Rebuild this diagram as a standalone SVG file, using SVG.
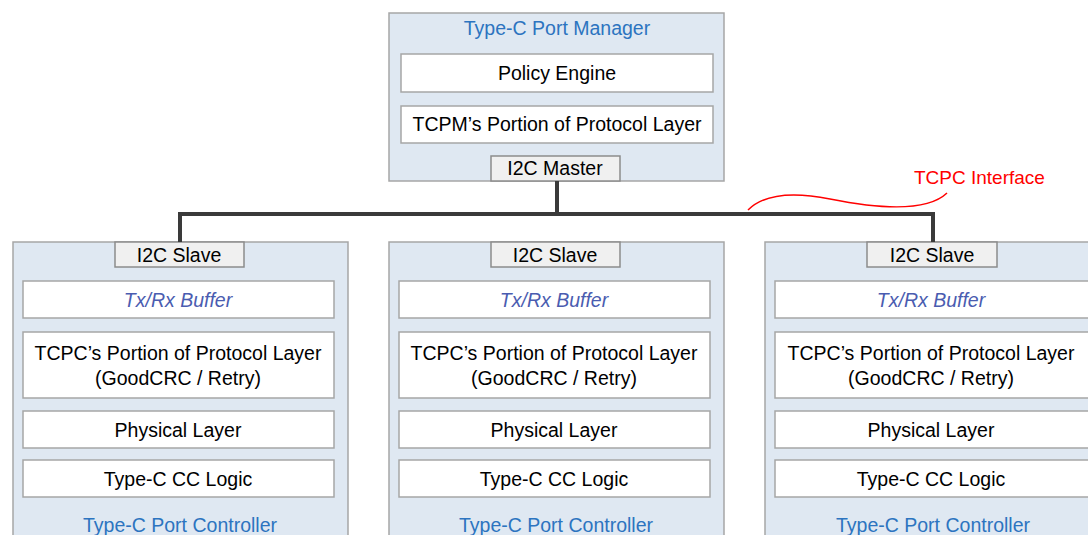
<svg xmlns="http://www.w3.org/2000/svg" width="1088" height="535" viewBox="0 0 1088 535">
<style>
.outer{fill:#dfe8f2;stroke:#a6a6a6;stroke-width:1.5}
.inner{fill:#ffffff;stroke:#a6a6a6;stroke-width:1.5}
.i2c{fill:#f0f0f0;stroke:#8c8c8c;stroke-width:1.5}
text{font-family:"Liberation Sans",Arial,sans-serif;font-size:19.5px;text-anchor:middle;fill:#000}
.title{fill:#2c74c0}
.buf{fill:#4a5cb0;font-style:italic}
.red{fill:#ff0000;text-anchor:start;font-size:19px}
.bus{fill:none;stroke:#3a3a3a;stroke-width:4}
</style>
<rect width="1088" height="535" fill="#fff"/>
<g id="tcpm">
<rect class="outer" x="389" y="13" width="335" height="168"/>
<text class="title" x="557" y="35">Type-C Port Manager</text>
<rect class="inner" x="401" y="54" width="312" height="38"/>
<text x="557" y="80">Policy Engine</text>
<rect class="inner" x="401" y="106" width="312" height="37"/>
<text x="557" y="131">TCPM’s Portion of Protocol Layer</text>
<rect class="i2c" x="491" y="156" width="129" height="25"/>
<text x="555" y="175">I2C Master</text>
</g>
<g id="tcpc1">
<rect class="outer" x="13" y="242" width="335" height="300"/>
<rect class="i2c" x="115" y="242" width="129" height="25"/>
<text x="179" y="262">I2C Slave</text>
<rect class="inner" x="23" y="281" width="311" height="37"/>
<text class="buf" x="178" y="307">Tx/Rx Buffer</text>
<rect class="inner" x="23" y="332" width="311" height="66"/>
<text x="178" y="360">TCPC’s Portion of Protocol Layer</text>
<text x="178" y="385">(GoodCRC / Retry)</text>
<rect class="inner" x="23" y="411" width="311" height="37"/>
<text x="178" y="437">Physical Layer</text>
<rect class="inner" x="23" y="460" width="311" height="37"/>
<text x="178" y="486">Type-C CC Logic</text>
<text class="title" x="180" y="532">Type-C Port Controller</text>
</g>
<g id="tcpc2">
<rect class="outer" x="389" y="242" width="335" height="300"/>
<rect class="i2c" x="491" y="242" width="129" height="25"/>
<text x="555" y="262">I2C Slave</text>
<rect class="inner" x="399" y="281" width="311" height="37"/>
<text class="buf" x="554" y="307">Tx/Rx Buffer</text>
<rect class="inner" x="399" y="332" width="311" height="66"/>
<text x="554" y="360">TCPC’s Portion of Protocol Layer</text>
<text x="554" y="385">(GoodCRC / Retry)</text>
<rect class="inner" x="399" y="411" width="311" height="37"/>
<text x="554" y="437">Physical Layer</text>
<rect class="inner" x="399" y="460" width="311" height="37"/>
<text x="554" y="486">Type-C CC Logic</text>
<text class="title" x="556" y="532">Type-C Port Controller</text>
</g>
<g id="tcpc3">
<rect class="outer" x="765" y="242" width="335" height="300"/>
<rect class="i2c" x="867" y="242" width="130" height="25"/>
<text x="932" y="262">I2C Slave</text>
<rect class="inner" x="775" y="281" width="320" height="37"/>
<text class="buf" x="931" y="307">Tx/Rx Buffer</text>
<rect class="inner" x="775" y="332" width="320" height="66"/>
<text x="931" y="360">TCPC’s Portion of Protocol Layer</text>
<text x="931" y="385">(GoodCRC / Retry)</text>
<rect class="inner" x="775" y="411" width="320" height="37"/>
<text x="931" y="437">Physical Layer</text>
<rect class="inner" x="775" y="460" width="320" height="37"/>
<text x="931" y="486">Type-C CC Logic</text>
<text class="title" x="933" y="532">Type-C Port Controller</text>
</g>
<g id="connectors">
<path class="bus" d="M557,181 V214"/>
<path class="bus" d="M180,242 V214 H933 V242"/>
<path d="M748,210 C765,193 795,192 830,199 C870,207 925,214 947,193" fill="none" stroke="#ff0000" stroke-width="1.5"/>
</g>
<g id="label">
<text class="red" x="914" y="184">TCPC Interface</text>
</g>
</svg>
